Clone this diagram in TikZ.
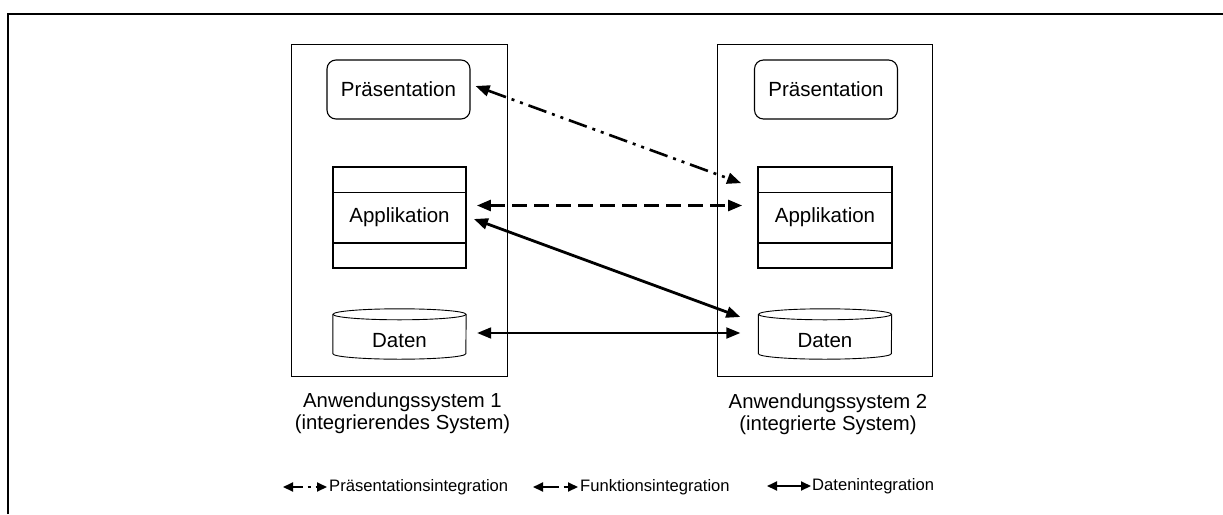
\documentclass[tikz,border=0pt]{standalone}
\usepackage{fontspec}
\setmainfont{Liberation Sans}
\usetikzlibrary{arrows.meta,calc}
\begin{document}
\begin{tikzpicture}[x=1pt,y=-1pt,
  sysbox/.style={draw, line width=1pt},
  praes/.style={draw, rounded corners=9pt, line width=1.1pt, minimum width=143pt, minimum height=59pt, inner sep=0pt, font=\fontsize{20.5}{24}\selectfont},
  appl/.style={draw, line width=1.8pt, minimum width=133pt, minimum height=101pt, inner sep=0pt, font=\fontsize{20.5}{24}\selectfont},
  daten/.style={minimum width=133pt, minimum height=50pt, inner sep=0pt},
  cyl/.style={line width=0.9pt},
  syslabel/.style={align=center, font=\fontsize{20.3}{22}\selectfont},
  legtext/.style={anchor=west, inner sep=0pt, font=\fontsize{16.6}{18}\selectfont},
  conn/.style={line width=2.6pt, {Triangle[length=14pt,width=11pt]}-{Triangle[length=14pt,width=11pt]}},
  legconn/.style={line width=2pt, {Triangle[length=10pt,width=9pt]}-{Triangle[length=10pt,width=9pt]}},
  dashdotdot/.style={dash pattern=on 19pt off 6pt on 3pt off 6pt on 3pt off 6pt},
  dashfun/.style={dash pattern=on 15pt off 7pt}
]
\useasboundingbox (0,0) rectangle (1223,514);
% frame
\draw[line width=2pt] (8.3,514) -- (8.3,14.3) -- (1223,14.3);

% system boxes
\node[sysbox, minimum width=216pt, minimum height=332pt, inner sep=0pt] (s1) at (399,210) {};
\node[sysbox, minimum width=215pt, minimum height=332pt, inner sep=0pt] (s2) at (824.5,210) {};

% Praesentation
\node[praes] (p1) at (398.5,89.5) {Präsentation};
\node[praes] (p2) at (826,89.5) {Präsentation};

% Applikation
\node[appl] (a1) at (399.5,217.5) {Applikation};
\node[appl, minimum width=134pt] (a2) at (825,217.5) {Applikation};
\foreach \n in {a1,a2}{
  \draw[line width=1.2pt] ($(\n.north west)+(0,26)$) -- ($(\n.north east)+(0,26)$);
  \draw[line width=1.2pt] ($(\n.south west)+(0,-26)$) -- ($(\n.south east)+(0,-26)$);
}

% Daten cylinders
\node[daten] (d1) at (399.5,334) {};
\node[daten] (d2) at (825,334) {};
\foreach \n in {d1,d2}{
  \draw[cyl] ($(\n.north)+(0,5.5)$) ellipse [x radius=66.5pt, y radius=5.5pt];
  \draw[cyl] ($(\n.north west)+(0,5.5)$) -- ($(\n.south west)+(0,-5.5)$)
     arc[start angle=180, end angle=360, x radius=66.5pt, y radius=5.5pt]
     -- ($(\n.north east)+(0,5.5)$);
}
\node[font=\fontsize{20.5}{24}\selectfont] (dt1) at ($(d1.center)+(0,7)$) {Daten};
\node[font=\fontsize{20.5}{24}\selectfont] (dt2) at ($(d2.center)+(0,7)$) {Daten};

% labels
\node[syslabel] (l1) at (402.5,413.5) {Anwendungssystem 1\\(integrierendes System)};
\node[syslabel] (l2) at (828,414.5) {Anwendungssystem 2\\(integrierte System)};

% connectors
\draw[conn, dashdotdot] ($(p1.east)+(5,-3.5)$) -- ($(a2.north west)+(-16,17)$);
\draw[conn, dashfun] ($(a1.east)+(10,-12)$) -- ($(a2.west)+(-15,-12)$);
\draw[conn, line width=2.8pt] ($(a1.east)+(7,1.5)$) -- ($(d2.west)+(-18,-17)$);
\draw[conn, line width=2pt] ($(d1.east)+(11,-1)$) -- ($(d2.west)+(-18,-1)$);

% legend
\coordinate (g1a) at (283,487);
\coordinate (g1b) at (327,487);
\draw[legconn, dash pattern=on 10pt off 5pt on 3pt off 5pt] (g1a) -- (g1b);
\node[legtext] (t1) at (329,487) {Präsentationsintegration};
\coordinate (g2a) at (533,487);
\coordinate (g2b) at (578,487);
\draw[legconn, dash pattern=on 16pt off 5pt] (g2a) -- (g2b);
\node[legtext] (t2) at (580,487.5) {Funktionsintegration};
\coordinate (g3a) at (767,486);
\coordinate (g3b) at (811,486);
\draw[legconn] (g3a) -- (g3b);
\node[legtext] (t3) at (812,486) {Datenintegration};
\end{tikzpicture}
\end{document}
